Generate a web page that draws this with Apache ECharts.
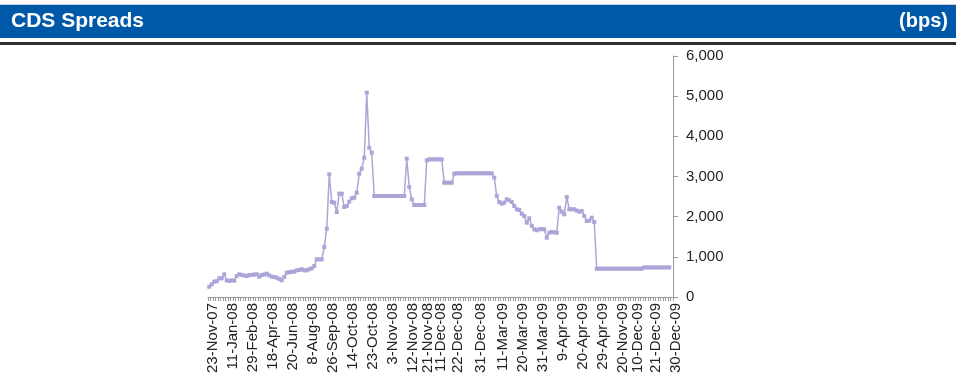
<!DOCTYPE html>
<html>
<head>
<meta charset="utf-8">
<script src="https://cdn.jsdelivr.net/npm/echarts@6/dist/echarts.min.js"></script>
<style>
  html, body { margin: 0; padding: 0; background: #ffffff; }
  #chart { width: 956px; height: 384px; }
</style>
</head>
<body>
<div id="chart"></div>
<script>
// Dates printed under the axis, and the observation each one belongs to
const tickLabels = [
  '23-Nov-07', '11-Jan-08', '29-Feb-08', '18-Apr-08', '20-Jun-08', '8-Aug-08',
  '26-Sep-08', '14-Oct-08', '23-Oct-08', '3-Nov-08', '12-Nov-08', '21-Nov-08',
  '11-Dec-08', '22-Dec-08', '31-Dec-08', '11-Mar-09', '20-Mar-09', '31-Mar-09',
  '9-Apr-09', '20-Apr-09', '29-Apr-09', '20-Nov-09', '10-Dec-09', '21-Dec-09',
  '30-Dec-09'
];
const tickLabelObs = [
  0, 8, 16, 24, 32, 40, 48, 56, 64, 72, 80, 86,
  91, 98, 107, 116, 124, 132, 140, 148, 156, 164, 170, 177,
  185
];

// CDS spread, basis points, one value per observation
const spreads = [
  256, 316, 381, 395, 465, 465, 565, 415, 398, 415,
  405, 523, 565, 548, 535, 523, 548, 550, 560, 565,
  506, 548, 560, 581, 540, 506, 495, 481, 450, 415,
  498, 606, 615, 630, 630, 664, 675, 689, 664, 664,
  690, 714, 772, 938, 938, 938, 1245, 1700, 3054, 2365,
  2348, 2116, 2572, 2572, 2240, 2265, 2373, 2457, 2473, 2597,
  3070, 3195, 3469, 5087, 3717, 3593, 2515, 2515, 2515, 2515,
  2515, 2515, 2515, 2515, 2515, 2515, 2515, 2515, 2515, 3444,
  2739, 2432, 2290, 2290, 2290, 2290, 2290, 3402, 3427, 3427,
  3427, 3427, 3427, 3427, 2846, 2846, 2846, 2846, 3070, 3080,
  3080, 3080, 3080, 3080, 3080, 3080, 3080, 3080, 3080, 3080,
  3080, 3080, 3080, 3080, 2970, 2515, 2365, 2323, 2348, 2432,
  2407, 2365, 2265, 2183, 2166, 2074, 2016, 1850, 1959, 1767,
  1685, 1660, 1685, 1690, 1685, 1477, 1600, 1620, 1610, 1600,
  2224, 2124, 2058, 2490, 2183, 2183, 2183, 2150, 2124, 2140,
  2016, 1892, 1900, 1975, 1867, 705, 705, 705, 705, 705,
  705, 705, 705, 705, 705, 705, 705, 705, 705, 705,
  705, 705, 705, 705, 735, 735, 735, 735, 735, 735,
  735, 735, 735, 735, 735
];

// Value axis ticks
const yTicks = [0, 1000, 2000, 3000, 4000, 5000, 6000];

// One category per observation; only the dated ones carry text
const categories = spreads.map(() => '');
tickLabelObs.forEach((obs, k) => { categories[obs] = tickLabels[k]; });

const FONT = "'Liberation Sans', Arial, Helvetica, sans-serif";
const chart = echarts.init(document.getElementById('chart'), null, { renderer: 'canvas' });

chart.setOption({
  animation: false,
  backgroundColor: '#ffffff',
  graphic: [
    { type: 'rect', left: 0, top: 4, shape: { width: 956, height: 1 }, style: { fill: '#c9d3e3' } },
    { type: 'rect', left: 0, top: 5, shape: { width: 956, height: 33 }, style: { fill: '#0059a8' } },
    { type: 'rect', left: 0, top: 42, shape: { width: 956, height: 3 }, style: { fill: '#2e2e2e' } },
    {
      type: 'text', left: 11, top: 11,
      style: { text: 'CDS Spreads', fill: '#ffffff', font: 'bold 21px ' + FONT }
    },
    {
      type: 'text', right: 8, top: 11,
      style: { text: '(bps)', fill: '#ffffff', font: 'bold 20px ' + FONT }
    }
  ],
  grid: { left: 208, right: 283, top: 56, bottom: 87, containLabel: false },
  xAxis: {
    type: 'category',
    data: categories,
    boundaryGap: true,
    axisLine: { show: true, lineStyle: { color: '#9a9a9a', width: 1 } },
    axisTick: { show: true, interval: 0, length: 4, lineStyle: { color: '#9a9a9a' } },
    axisLabel: {
      interval: (i, name) => name !== '',
      rotate: 90,
      margin: 6,
      verticalAlign: 'top',
      lineHeight: 8,
      color: '#222222',
      fontFamily: FONT,
      fontSize: 15
    },
    splitLine: { show: false }
  },
  yAxis: {
    type: 'value',
    position: 'right',
    min: yTicks[0],
    max: yTicks[yTicks.length - 1],
    interval: yTicks[1] - yTicks[0],
    axisLine: { show: true, lineStyle: { color: '#9a9a9a', width: 1 } },
    axisTick: { show: true, inside: false, length: 5, lineStyle: { color: '#9a9a9a' } },
    axisLabel: {
      margin: 13,
      color: '#222222',
      fontFamily: FONT,
      fontSize: 15,
      formatter: v => v.toLocaleString('en-US')
    },
    splitLine: { show: false }
  },
  series: [{
    type: 'line',
    data: spreads,
    symbol: 'rect',
    symbolSize: 4,
    showSymbol: true,
    showAllSymbol: true,
    lineStyle: { color: '#aaa6d8', width: 1.5 },
    itemStyle: { color: '#aaa6d8' },
    emphasis: { disabled: true }
  }]
});
</script>
</body>
</html>
